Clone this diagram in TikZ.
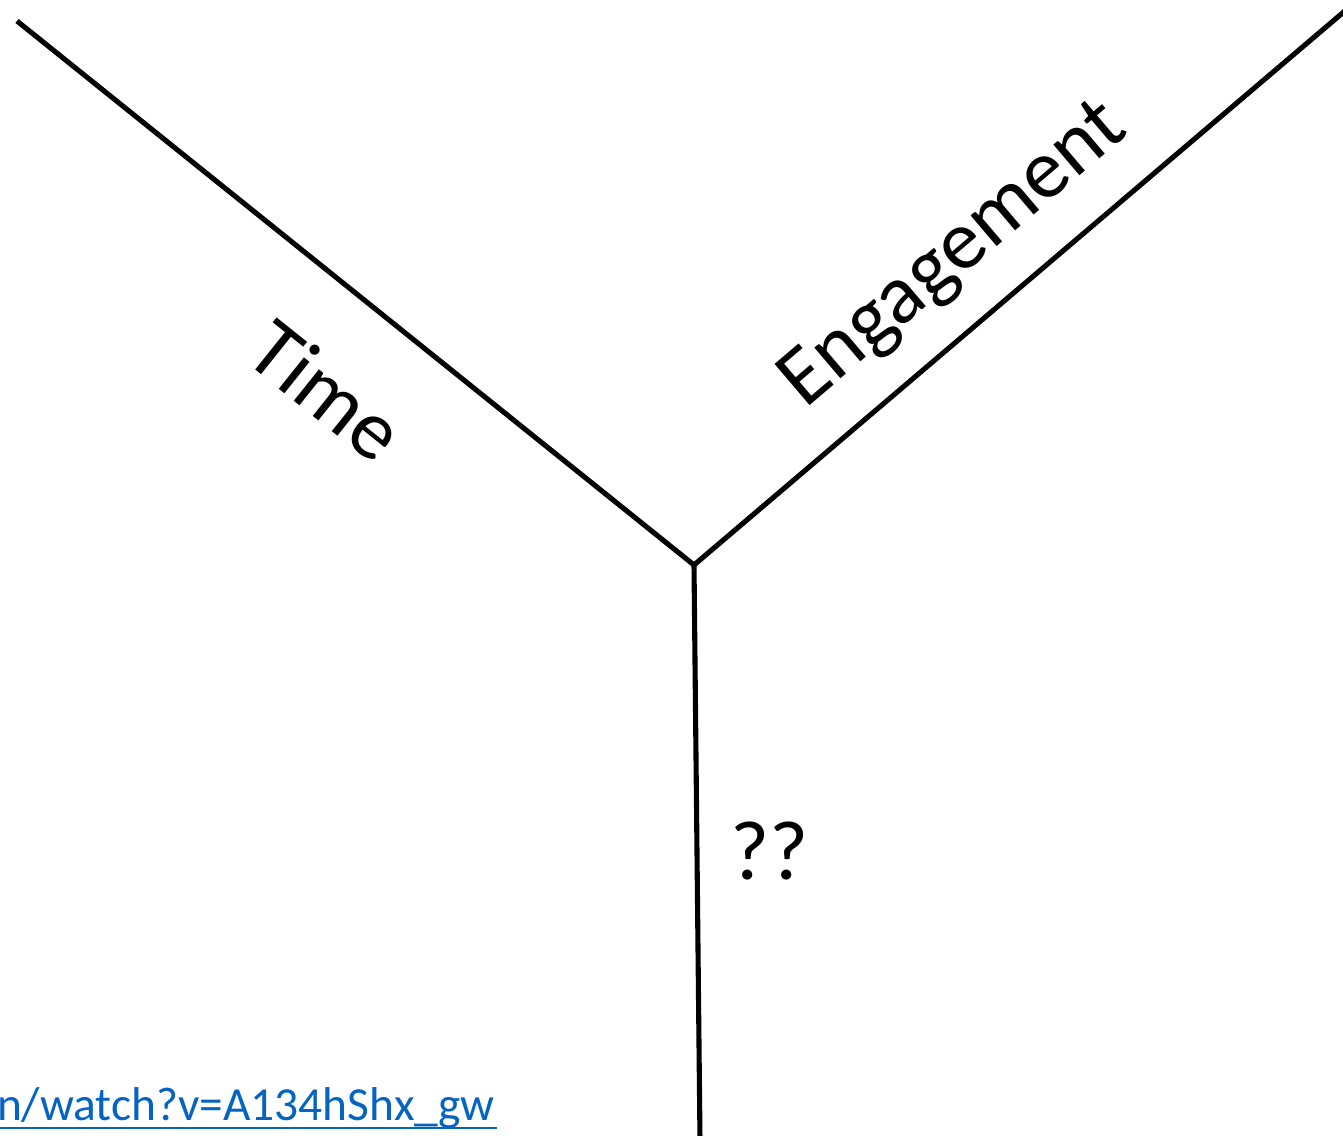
\documentclass[tikz,border=0pt]{standalone}
\usepackage{fontspec}
\setmainfont{Carlito}
\usepackage{tikz}

\definecolor{linkblue}{HTML}{0563C1}

\begin{document}
\begin{tikzpicture}[x=0.02cm, y=-0.02cm, line width=2.9pt]
        \useasboundingbox (0,0) rectangle (1343,1136);

        % Arms of the Y
        \coordinate (hub) at (694,565);
        \coordinate (timeEnd) at (17,21);
        \coordinate (engEnd) at (1346,10);
        \coordinate (bottomEnd) at (700,1140);
        \draw (timeEnd) -- (hub) -- (engEnd);
        \draw (hub) -- (bottomEnd);

        % Labels
        \node[font=\fontsize{48}{58}\selectfont, rotate=-38.65, inner sep=0pt] (timeLabel) at (327,390) {Time};
        \node[font=\fontsize{48}{58}\selectfont, rotate=40.4, inner sep=0pt] (engLabel) at (955,256) {Engagement};
        \node[font=\fontsize{48}{58}\selectfont, inner sep=0pt] (unknownLabel) at (770,851) {??};

        % Link
        \node[font=\fontsize{27}{32}\selectfont, text=linkblue, anchor=base east, inner sep=0pt] (link) at (497,1120)
          {n/watch?v=A134hShx\_gw};
        \draw[linkblue, line width=1.6pt] (0,1128) -- (link.east |- 0,1128);
      \end{tikzpicture}
\end{document}
